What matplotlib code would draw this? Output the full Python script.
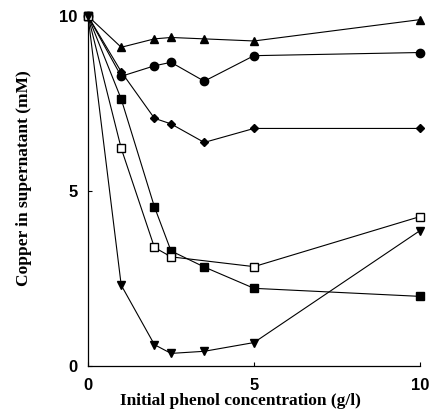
import numpy as np
import matplotlib.pyplot as plt

# phenol concentration (g/l)
x_all = [0, 1, 2, 2.5, 3.5, 5, 10]
x_open = [0, 1, 2, 2.5, 5, 10]

# copper in supernatant (mM)
tri_up = [10, 9.11, 9.35, 9.39, 9.35, 9.29, 9.9]
circle = [10, 8.28, 8.58, 8.68, 8.14, 8.87, 8.96]
diamond = [10, 8.41, 7.08, 6.92, 6.39, 6.79, 6.79]
sq_filled = [10, 7.63, 4.55, 3.29, 2.83, 2.22, 1.99]
sq_open = [10, 6.22, 3.39, 3.12, 2.84, 4.27]
tri_down = [10, 2.31, 0.61, 0.36, 0.42, 0.67, 3.87]

xticks = [0, 5, 10]
yticks = [0, 5, 10]

fig = plt.figure(figsize=(4.3, 4.19), dpi=100)
ax = fig.add_axes([0.2047, 0.1265, 0.772, 0.835])

kw = dict(color='black', lw=0.8, clip_on=False, zorder=3)
ax.plot(x_all, tri_up, marker='^', ms=6, **kw)
ax.plot(x_all, circle, marker='o', ms=6, **kw)
ax.plot(x_all, diamond, marker='D', ms=4, **kw)
ax.plot(x_all, sq_filled, marker='s', ms=6, **kw)
ax.plot(x_open, sq_open, marker='s', ms=6, mfc='white', mec='black', **kw)
ax.plot(x_all, tri_down, marker='v', ms=6, **kw)

ax.set_xlim(0, 10)
ax.set_ylim(0, 10)
ax.spines['top'].set_visible(False)
ax.spines['right'].set_visible(False)
ax.spines['left'].set_linewidth(0.9)
ax.spines['bottom'].set_linewidth(0.9)

ax.set_xticks(xticks)
ax.set_yticks(yticks)
ax.tick_params(axis='both', direction='in', length=3, width=0.8)
ax.tick_params(axis='x', pad=9)
ax.tick_params(axis='y', pad=7.5)
for lab in ax.get_xticklabels() + ax.get_yticklabels():
    lab.set_fontfamily('Liberation Sans')
    lab.set_fontweight('bold')
    lab.set_fontsize(12)

ax.set_xlabel('Initial phenol concentration (g/l)', fontfamily='Liberation Serif',
              fontweight='bold', fontsize=12.5)
ax.set_ylabel('Copper in supernatant (mM)', fontfamily='Liberation Serif',
              fontweight='bold', fontsize=12.5)
ax.xaxis.set_label_coords(0.458, -0.077)
ax.yaxis.set_label_coords(-0.169, 0.537)

fig.savefig('out.png', dpi=100)
